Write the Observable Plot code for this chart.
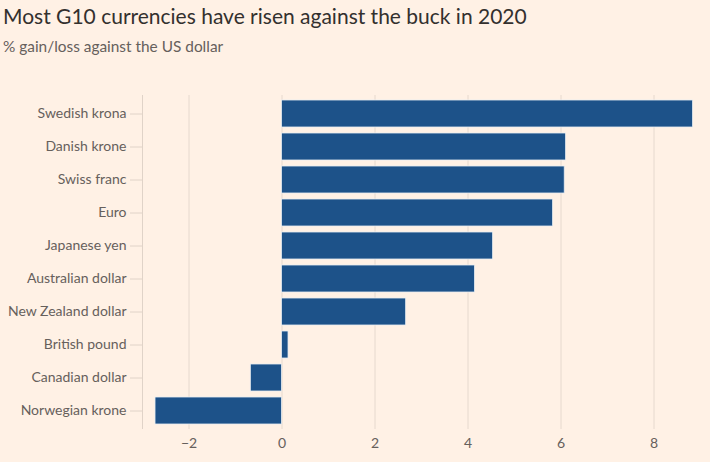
<!DOCTYPE html>
<html>
<head>
<meta charset="utf-8">
<script src="https://cdn.jsdelivr.net/npm/d3@7"></script>
<script src="https://cdn.jsdelivr.net/npm/@observablehq/plot@0.6"></script>
<style>
  html, body { margin: 0; padding: 0; background: #FFF1E5; }
  body { width: 710px; height: 462px; overflow: hidden; font-family: Lato, "Open Sans", sans-serif; }
  #title { position: absolute; left: 3px; top: 3px; font-size: 21px; color: #33302E; white-space: nowrap; }
  #subtitle { position: absolute; left: 3px; top: 37px; font-size: 15.4px; color: #66605C; white-space: nowrap; }
  #chart { position: absolute; left: 0; top: 60px; }
  #chart svg { display: block; }
</style>
</head>
<body>
<div id="title">Most G10 currencies have risen against the buck in 2020</div>
<div id="subtitle">% gain/loss against the US dollar</div>
<div id="chart"></div>
<script>
const currencies = ["Swedish krona", "Danish krone", "Swiss franc", "Euro", "Japanese yen",
  "Australian dollar", "New Zealand dollar", "British pound", "Canadian dollar", "Norwegian krone"];
const changes = [8.84, 6.11, 6.08, 5.83, 4.54, 4.15, 2.67, 0.14, -0.67, -2.72];
const xTicks = [-2, 0, 2, 4, 6, 8];

const data = currencies.map((c, i) => ({currency: c, change: changes[i]}));

const plot = Plot.plot({
  width: 710,
  height: 402,
  marginTop: 35,
  marginBottom: 33,
  marginLeft: 142,
  marginRight: 10,
  style: {background: "#FFF1E5", color: "#66605C", fontSize: "14px", fontFamily: "Lato, 'Open Sans', sans-serif"},
  x: {domain: [-3, 9], ticks: xTicks, tickSize: 0, tickPadding: 11, label: null},
  y: {domain: currencies, paddingInner: 0.18, paddingOuter: 0.09, tickSize: 12, tickPadding: 4, label: null},
  marks: [
    Plot.gridX(xTicks, {stroke: "#E6D9CE", strokeOpacity: 1}),
    Plot.ruleX([-3], {stroke: "#E0D3C8"}),
    Plot.barX(data, {x: "change", y: "currency", fill: "#1D5289", stroke: "#E8EEF2", strokeWidth: 0.8}),
    Plot.axisY({tickSize: 12, tickPadding: 4, stroke: "#E0D3C8", fill: "#66605C", fontSize: 14}),
    Plot.axisX({ticks: xTicks, tickSize: 0, tickPadding: 9, fill: "#66605C", fontSize: 14})
  ]
});
document.getElementById("chart").appendChild(plot);
</script>
</body>
</html>
